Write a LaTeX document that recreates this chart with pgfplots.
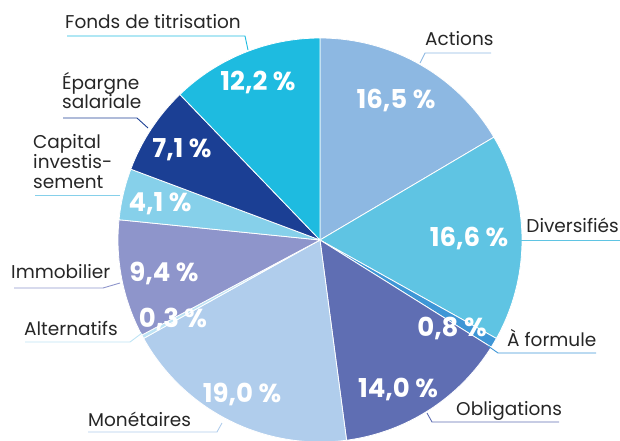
\documentclass[border=0pt]{standalone}
\usepackage{pgfplots}
\usepackage{pgfplotstable}
\pgfplotsset{compat=1.18}
\usepackage{fontspec}
\setmainfont{Poppins}

\definecolor{c0}{HTML}{8DB8E2}
\definecolor{c1}{HTML}{5FC4E3}
\definecolor{c2}{HTML}{3E96D6}
\definecolor{c3}{HTML}{5F6EB3}
\definecolor{c4}{HTML}{B0CDEC}
\definecolor{c5}{HTML}{BDE3F4}
\definecolor{c6}{HTML}{8E95CB}
\definecolor{c7}{HTML}{86D0EA}
\definecolor{c8}{HTML}{1B3F94}
\definecolor{c9}{HTML}{1EBBE0}

% shares in %, clockwise from 12 o'clock
\pgfplotstableread{
value
16.5
16.6
0.8
14.0
19.0
0.3
9.4
4.1
7.1
12.2
}\piedata

\begin{document}
\begin{tikzpicture}
\begin{axis}[
  x=1pt, y=1pt,
  xmin=0, xmax=620, ymin=0, ymax=440,
  hide axis,
  clip=true,
]
\coordinate (bl) at (axis cs:0,0);
\coordinate (tr) at (axis cs:620,440);
\pgfmathsetmacro{\cum}{0}
\pgfplotsforeachungrouped \i in {0,...,9}{%
  \pgfplotstablegetelem{\i}{value}\of\piedata
  \pgfmathsetmacro{\sa}{90-3.6*\cum}%
  \pgfmathsetmacro{\ea}{90-3.6*(\cum+\pgfplotsretval)}%
  \pgfmathsetmacro{\cum}{\cum+\pgfplotsretval}%
  \edef\temp{\noexpand\fill[c\i, draw=white, line width=0.8pt, line join=round]
    (axis cs:320,200) -- ++(\sa:202) arc[start angle=\sa, end angle=\ea, radius=202] -- cycle;}%
  \temp
}

% percentages
\begin{scope}[every node/.style={text=white, font=\fontsize{26}{30}\selectfont\bfseries}]
\node at (axis cs:396,340) {16,5 \%};
\node at (axis cs:469,202) {16,6 \%};
\node at (axis cs:452,112) {0,8 \%};
\node at (axis cs:398,51) {14,0 \%};
\node at (axis cs:242,46) {19,0 \%};
\node at (axis cs:173,121) {0,3 \%};
\node at (axis cs:164,167) {9,4 \%};
\node at (axis cs:160,236) {4,1 \%};
\node at (axis cs:182,290) {7,1 \%};
\node at (axis cs:258,358) {12,2 \%};
\end{scope}

% category labels
\begin{scope}[every node/.style={text=black!85, inner sep=0pt, anchor=base west, font=\fontsize{18.5}{22}\selectfont}]
\node at (axis cs:425,394) {Actions};
\node[anchor=base east] at (axis cs:619,208) {Diversifiés};
\node at (axis cs:507,94) {À formule};
\node at (axis cs:456,25) {Obligations};
\node at (axis cs:88,14) {Monétaires};
\node at (axis cs:24,105) {Alternatifs};
\node at (axis cs:11,162) {Immobilier};
\node at (axis cs:33,292) {Capital};
\node at (axis cs:33,272) {investis-};
\node at (axis cs:33,252) {sement};
\node at (axis cs:62,351) {Épargne};
\node at (axis cs:62,332) {salariale};
\node at (axis cs:65,411) {Fonds de titrisation};
\end{scope}

% leader lines
\begin{scope}[line width=0.9pt]
\draw[c0] (axis cs:420,377) -- (axis cs:425,387) -- (axis cs:491,387);
\draw[c1] (axis cs:521,200) -- (axis cs:620,200);
\draw[c2] (axis cs:488,94) -- (axis cs:498,87) -- (axis cs:596,87);
\draw[c3] (axis cs:427,27) -- (axis cs:432,18) -- (axis cs:559,18);
\draw[c4] (axis cs:222,17) -- (axis cs:217,8) -- (axis cs:88,8);
\draw[c5] (axis cs:142,107) -- (axis cs:130,98) -- (axis cs:25,98);
\draw[c6] (axis cs:120,157) -- (axis cs:103,152) -- (axis cs:14,152);
\draw[c7] (axis cs:120,245) -- (axis cs:35,245);
\draw[c8] (axis cs:148,312) -- (axis cs:137,322) -- (axis cs:63,322);
\draw[c9] (axis cs:248,390) -- (axis cs:245,404) -- (axis cs:67,404);
\end{scope}
\end{axis}
\pgfresetboundingbox
\path[use as bounding box] (bl) rectangle (tr);
\end{tikzpicture}
\end{document}
